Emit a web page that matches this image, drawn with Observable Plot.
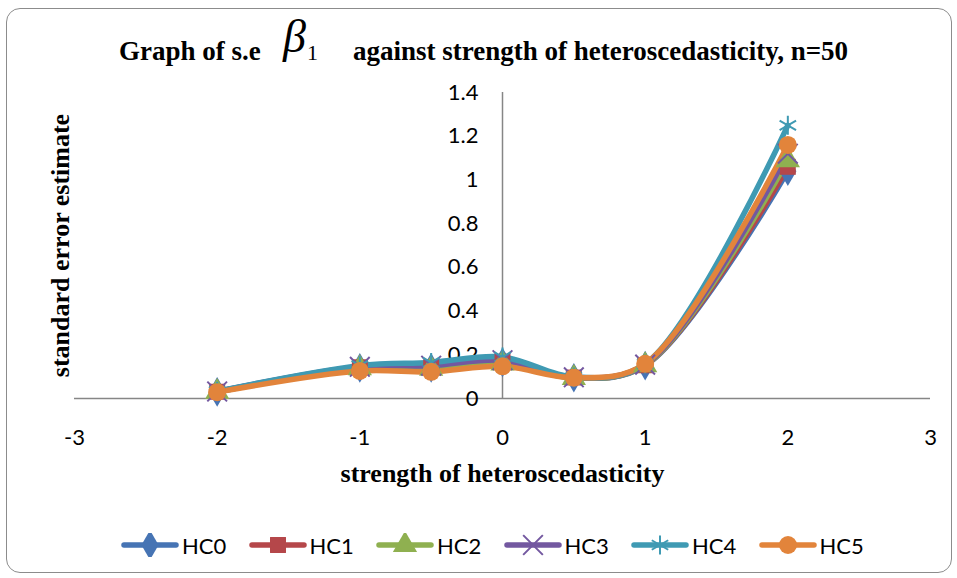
<!DOCTYPE html>
<html>
<head>
<meta charset="utf-8">
<script src="https://cdn.jsdelivr.net/npm/d3@7"></script>
<script src="https://cdn.jsdelivr.net/npm/@observablehq/plot@0.6"></script>
<style>
  html, body { margin: 0; padding: 0; background: #fff; }
  #wrap { position: relative; width: 957px; height: 578px; overflow: hidden; }
  #frame { position: absolute; left: 6px; top: 8px; width: 946px; height: 565px;
           border: 1.5px solid #8c8c8c; border-radius: 14px; box-sizing: border-box; }
  .t { position: absolute; white-space: pre; font-family: "Liberation Serif", "Times New Roman", serif; line-height: 1; }
  .tb { font-weight: bold; font-size: 27px; top: 38px; }
  .beta { font-style: italic; font-size: 46px; top: 14px; left: 283px; }
  .sub { font-size: 22px; top: 42px; left: 307px; }
  #chart { position: absolute; left: 0; top: 0; }
  #legend { position: absolute; left: 0; top: 533px; width: 957px; height: 24px; }
  .item { position: absolute; top: 0; height: 24px; display: flex; align-items: center;
          font-family: Lato, sans-serif; font-size: 22px; }
  .item svg { margin-right: 3px; }
</style>
</head>
<body>
<div id="wrap">
  <div id="frame"></div>
  <div class="t tb" style="left:119px">Graph of s.e</div>
  <div class="t beta">β</div>
  <div class="t sub">1</div>
  <div class="t tb" style="left:353px">against strength of heteroscedasticity, n=50</div>
  <div id="chart"></div>
  <div id="legend"></div>
</div>
<script>
// ---- data ----
const strength = [-2, -1, -0.5, 0, 0.5, 1, 2];
const seriesNames = ["HC0", "HC1", "HC2", "HC3", "HC4", "HC5"];
const HC0 = [0.030, 0.140, 0.140, 0.165, 0.095, 0.150, 1.04];
const HC1 = [0.031, 0.143, 0.143, 0.168, 0.096, 0.152, 1.06];
const HC2 = [0.030, 0.138, 0.136, 0.160, 0.094, 0.152, 1.09];
const HC3 = [0.032, 0.145, 0.150, 0.175, 0.097, 0.155, 1.12];
const HC4 = [0.033, 0.150, 0.165, 0.190, 0.098, 0.158, 1.25];
const HC5 = [0.029, 0.126, 0.122, 0.147, 0.095, 0.159, 1.16];
const xTicks = [-3, -2, -1, 0, 1, 2, 3];
const yTicks = [0, 0.2, 0.4, 0.6, 0.8, 1, 1.2, 1.4];
const colors = ["#4674B4", "#B5474A", "#8FB050", "#7358A0", "#3F9AB3", "#E2843B"];
const symbols = ["diamond", "square", "triangle", "times", "asterisk", "circle"];
const strokeSymbols = new Set(["times", "asterisk"]);

const values = [HC0, HC1, HC2, HC3, HC4, HC5];
const rows = [];
seriesNames.forEach((s, i) => strength.forEach((x, j) => rows.push({series: s, x, y: values[i][j]})));

const serifFont = '"Liberation Serif", "Times New Roman", serif';
const marks = [
  Plot.ruleY([0], {stroke: "#868686", strokeWidth: 1.5}),
  Plot.ruleX([0], {stroke: "#868686", strokeWidth: 1.5}),
  Plot.axisX(xTicks, {tickSize: 0, tickPadding: 31, tickFormat: d => String(d), label: null, fill: "#000", fontSize: 22}),
  Plot.text(yTicks, {x: 0, y: d => d, text: d => String(d), textAnchor: "end", dx: -24, fill: "#000", fontSize: 22}),
  Plot.text(["strength of heteroscedasticity"], {frameAnchor: "bottom", dy: 83, fontFamily: serifFont, fontWeight: "bold", fontSize: 26, fill: "#000"}),
  Plot.text(["standard error estimate"], {frameAnchor: "left", textAnchor: "middle", dx: -14, rotate: -90, fontFamily: serifFont, fontWeight: "bold", fontSize: 26, fill: "#000"})
];
seriesNames.forEach((s, i) => {
  const d = rows.filter(r => r.series === s);
  marks.push(Plot.line(d, {x: "x", y: "y", stroke: colors[i], strokeWidth: 5.5, curve: "catmull-rom", strokeLinejoin: "round", strokeLinecap: "round"}));
});
seriesNames.forEach((s, i) => {
  const d = rows.filter(r => r.series === s);
  const stroked = strokeSymbols.has(symbols[i]);
  marks.push(Plot.dot(d, {x: "x", y: "y", symbol: () => symbols[i], r: 9,
    fill: stroked ? "none" : colors[i], stroke: stroked ? colors[i] : "none", strokeWidth: stroked ? 2 : 0}));
});

const chart = Plot.plot({
  width: 957, height: 500,
  marginLeft: 74, marginRight: 27, marginTop: 92, marginBottom: 102,
  x: {domain: [-3, 3], axis: null},
  y: {domain: [0, 1.4], axis: null},
  symbol: {type: "identity"},
  style: {fontFamily: "Lato, sans-serif", fontSize: "22px", background: "transparent", overflow: "visible", color: "#000"},
  marks
});
document.getElementById("chart").appendChild(chart);

// ---- legend ----
const legend = d3.select("#legend");
const symbolMap = {diamond: d3.symbolDiamond, square: d3.symbolSquare, triangle: d3.symbolTriangle,
  times: d3.symbolTimes, asterisk: d3.symbolAsterisk, circle: d3.symbolCircle};
seriesNames.forEach((s, i) => {
  const item = legend.append("div").attr("class", "item").style("left", (121 + i * 127.5) + "px");
  const svg = item.append("svg").attr("width", 58).attr("height", 24);
  svg.append("line").attr("x1", 3).attr("x2", 55).attr("y1", 12).attr("y2", 12)
    .attr("stroke", colors[i]).attr("stroke-width", 5.5).attr("stroke-linecap", "round");
  const stroked = strokeSymbols.has(symbols[i]);
  svg.append("path").attr("transform", "translate(29,12)")
    .attr("d", d3.symbol(symbolMap[symbols[i]], 81 * Math.PI)())
    .attr("fill", stroked ? "none" : colors[i]).attr("stroke", stroked ? colors[i] : "none").attr("stroke-width", 2);
  item.append("span").text(s);
});
</script>
</body>
</html>
